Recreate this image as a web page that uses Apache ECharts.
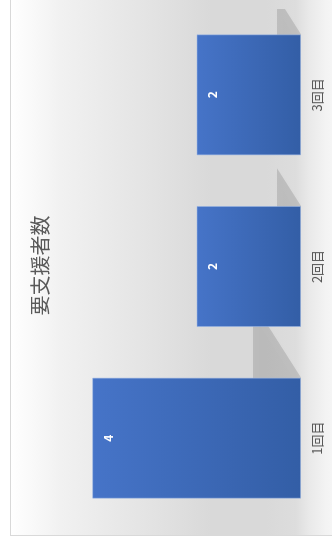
<!DOCTYPE html>
<html>
<head>
<meta charset="utf-8">
<script src="https://cdn.jsdelivr.net/npm/echarts@6/dist/echarts.min.js"></script>
<style>
  html, body { margin: 0; padding: 0; width: 332px; height: 540px; overflow: hidden; background: #ffffff; }
  #card {
    position: absolute; left: 0; top: 0;
    width: 540px; height: 330px;
    box-sizing: border-box;
    border-left: 1px solid #d9d9d9; border-top: 1px solid #d9d9d9;
    transform-origin: 0 0;
    transform: translate(10px, 536px) rotate(-90deg);
    background: linear-gradient(to bottom, #ffffff 0px, #f1f1f1 50px, #e3e3e3 140px, #d9d9d9 200px, #d9d9d9 255px, #dddddd 285px, #e9e9e9 298px, #f3f3f3 315px, #f8f8f8 330px);
  }
  #chart { width: 539px; height: 329px; }
</style>
</head>
<body>
<div id="card"><div id="chart"></div></div>
<script>
const titleText = '要支援者数';
const categories = ['1回目', '2回目', '3回目'];
const values = [4, 2, 2];

const chart = echarts.init(document.getElementById('chart'), null, { renderer: 'canvas' });
const font = '"Noto Sans CJK JP", "Noto Sans", sans-serif';

chart.setOption({
  backgroundColor: 'transparent',
  animation: false,
  title: {
    text: titleText,
    left: 'center',
    top: 14,
    textStyle: { fontFamily: font, fontSize: 20, fontWeight: 'normal', color: '#595959' }
  },
  grid: { left: 11, right: 13, top: 29, bottom: 39, containLabel: false },
  xAxis: {
    type: 'category',
    data: categories,
    axisLine: { show: false },
    axisTick: { show: false },
    axisLabel: { fontFamily: font, fontSize: 13, color: '#595959', margin: 10 }
  },
  yAxis: {
    type: 'value',
    min: 0, max: 5,
    show: false,
    splitLine: { show: false }
  },
  series: [
    {
      type: 'custom',
      clip: true,
      z: 1,
      silent: true,
      data: values.map((v, i) => [i, v]),
      renderItem: function (params, api) {
        const i = api.value(0);
        const v = api.value(1);
        const base = api.coord([i, 0]);
        const top = api.coord([i, v]);
        const bw = api.size([1, 0])[0] * 0.706;
        const h = base[1] - top[1];
        const sh = 0.23 * h;
        const sk = 1.57 * sh;
        const xl = base[0] - bw / 2;
        const xr = base[0] + bw / 2;
        return {
          type: 'polygon',
          shape: { points: [[xl, base[1]], [xr, base[1]], [xr + sk, base[1] - sh], [xl + sk, base[1] - sh]] },
          style: { fill: 'rgba(0,0,0,0.13)', shadowBlur: 5, shadowColor: 'rgba(0,0,0,0.12)' }
        };
      }
    },
    {
      type: 'bar',
      z: 2,
      data: values,
      barWidth: 121,
      itemStyle: {
        color: new echarts.graphic.LinearGradient(0, 0, 0, 1, [
          { offset: 0, color: '#4674c8' },
          { offset: 1, color: '#335ea6' }
        ]),
        borderColor: 'rgba(150,178,228,0.55)',
        borderWidth: 1
      },
      label: {
        show: true,
        position: 'insideTop',
        distance: 10,
        fontFamily: font,
        fontSize: 12,
        fontWeight: 'bold',
        color: '#ffffff'
      }
    }
  ]
});
</script>
</body>
</html>
